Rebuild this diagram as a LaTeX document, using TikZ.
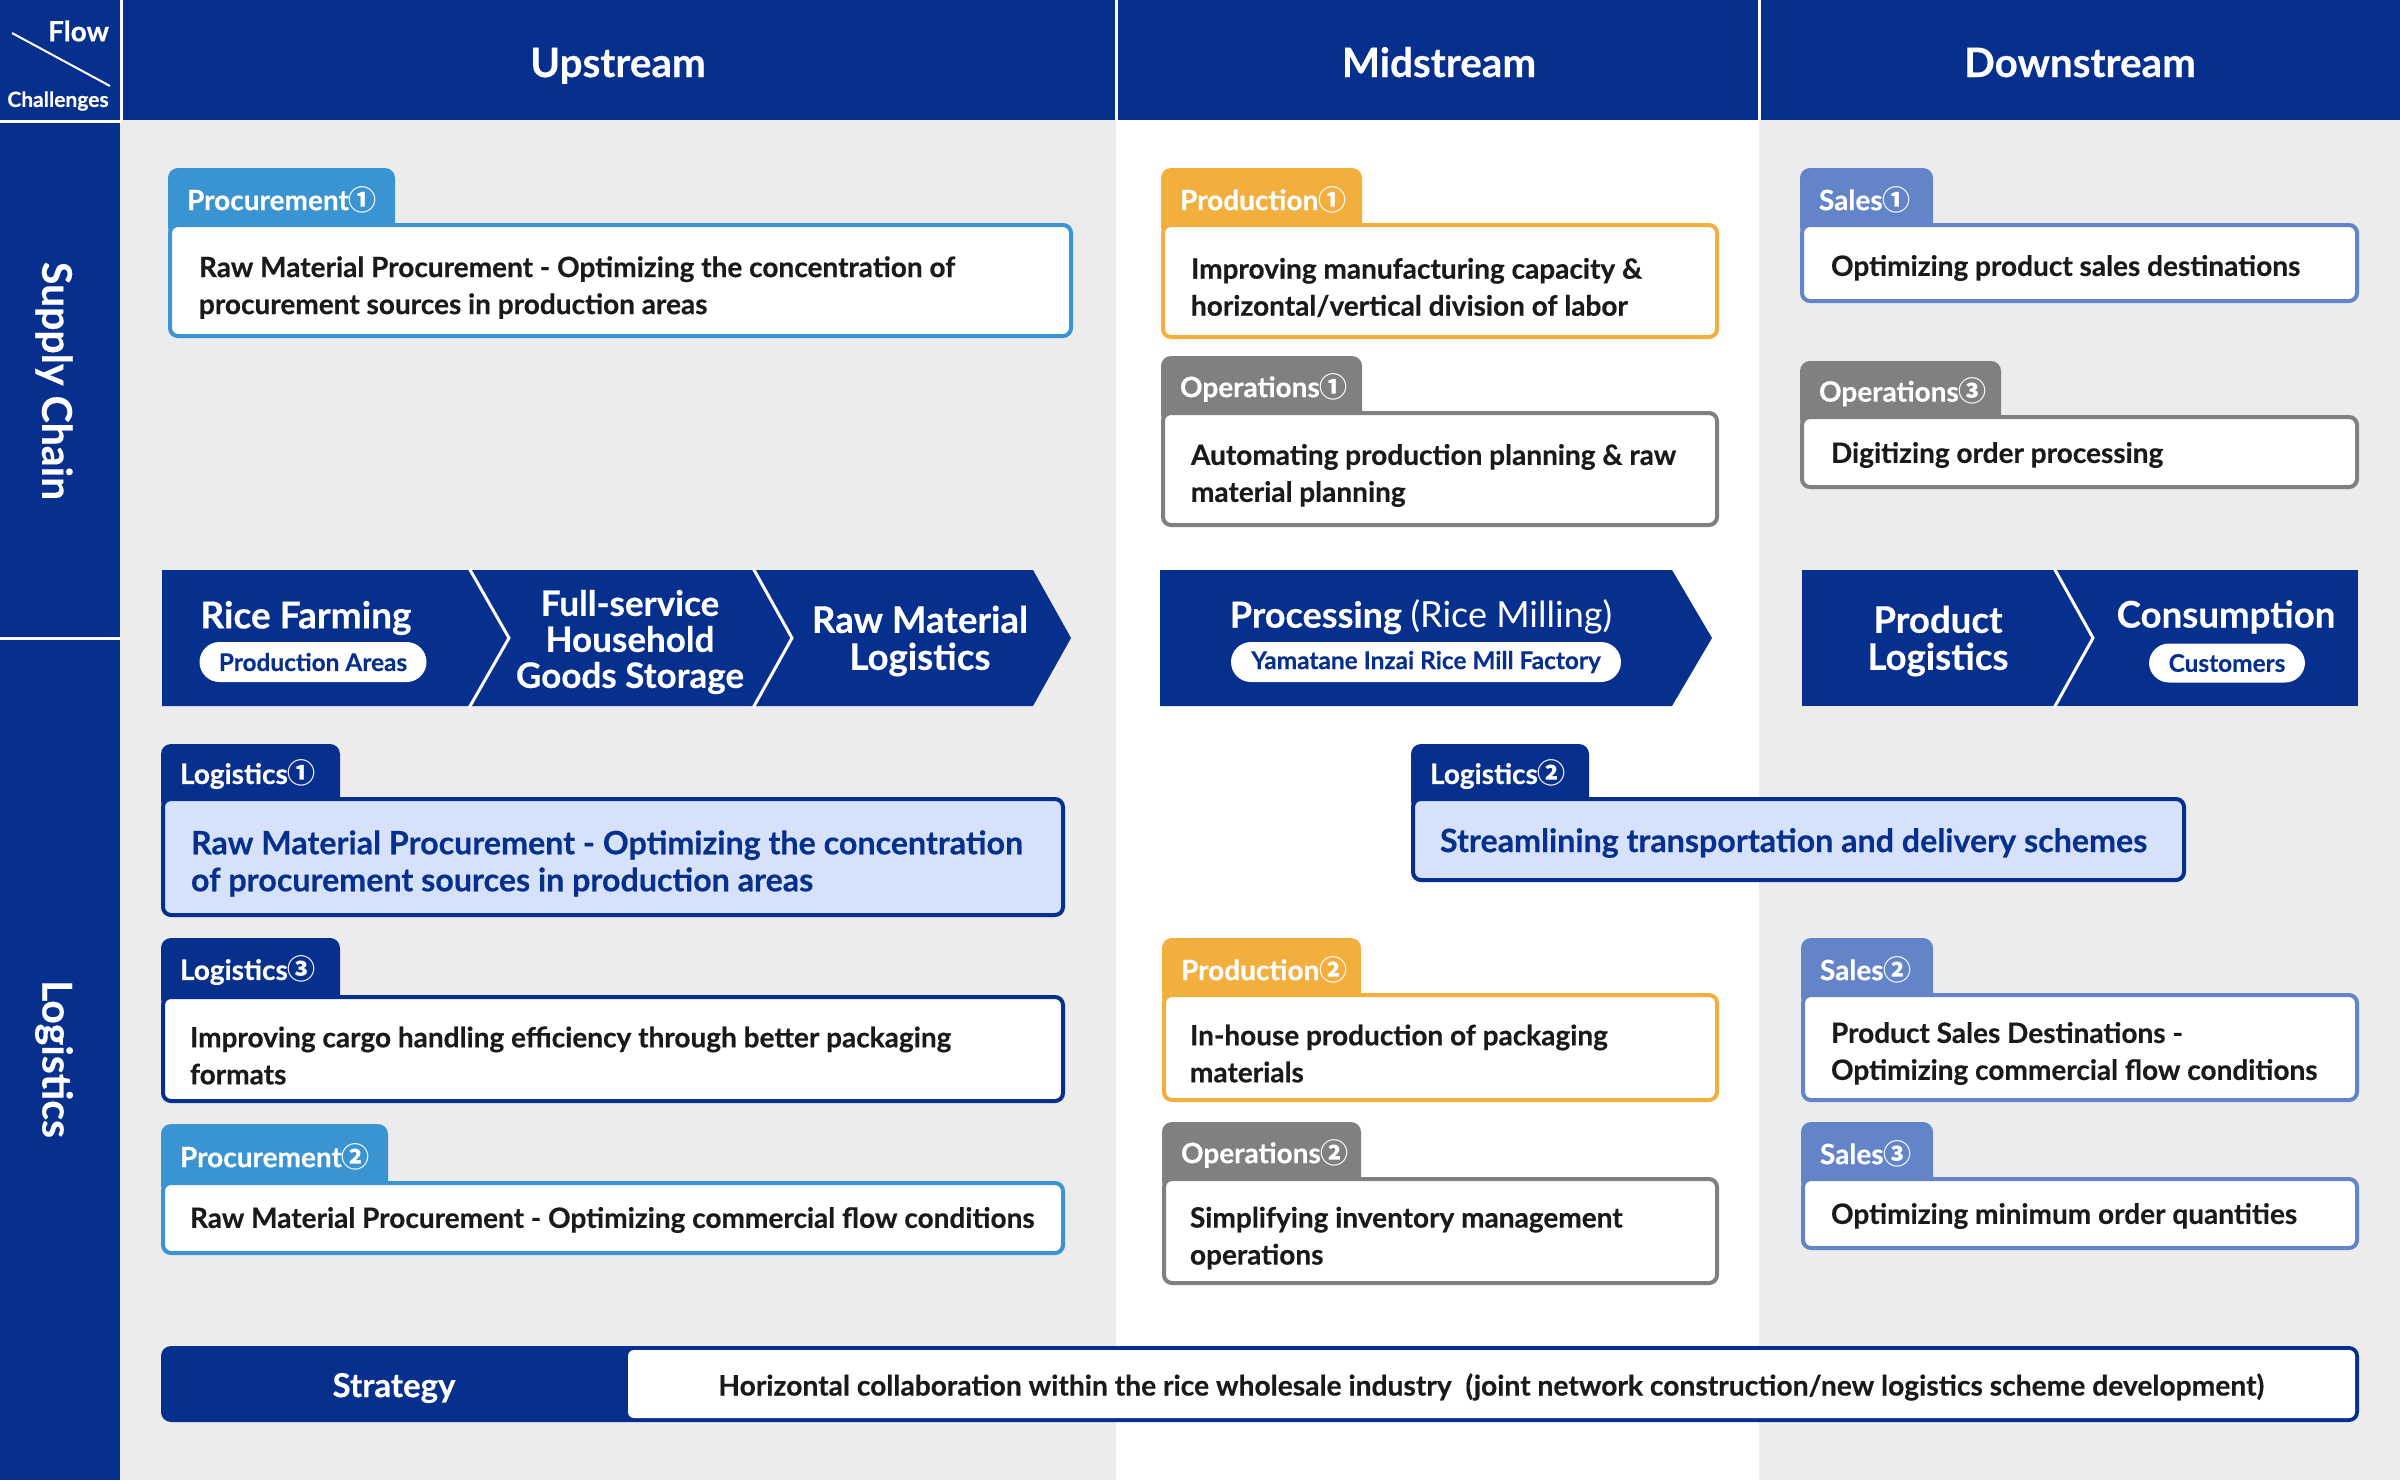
\documentclass[tikz,border=0pt]{standalone}
\usepackage{fontspec}
\setmainfont{Lato}[BoldFeatures={FakeBold=0.4}]
\newfontfamily\cjk{Noto Sans CJK JP}
\definecolor{navy}{RGB}{7,48,142}
\definecolor{procb}{RGB}{58,148,210}
\definecolor{prodo}{RGB}{243,175,61}
\definecolor{opsg}{RGB}{128,128,128}
\definecolor{salesb}{RGB}{99,132,200}
\definecolor{lightb}{RGB}{214,225,250}
\definecolor{bggray}{RGB}{236,236,236}
\definecolor{txt}{RGB}{26,26,26}
\newcommand\cn[1]{{\cjk\bfseries #1}}
\newcommand\cardfill{white}
\newcommand\card[9]{%
  \fill[#2, rounded corners=5pt] (#3,#4) rectangle (#5,#6+14);
  \filldraw[fill=\cardfill, draw=#2, line width=2pt, rounded corners=4pt] (#3+2,#6+2) rectangle (#7-2,#8-2);
  \node[tablbl] (#1) at (#3+19,{(#4+#6)/2+4}) {#9};}
\begin{document}
\begin{tikzpicture}[x=0.5pt,y=-0.5pt,
  every node/.style={inner sep=0pt, outer sep=0pt},
  hdr/.style={text=white, anchor=base, font=\bfseries\fontsize{20.2pt}{22pt}\selectfont},
  side/.style={text=white, rotate=-90, font=\bfseries\fontsize{20.5pt}{22pt}\selectfont},
  tablbl/.style={text=white, anchor=west, font=\bfseries\fontsize{14pt}{16pt}\selectfont},
  body/.style={text=txt, anchor=west, align=left, font=\bfseries\fontsize{14pt}{18.5pt}\selectfont},
  bigbody/.style={text=navy, anchor=west, align=left, font=\bfseries\fontsize{16.1pt}{18.5pt}\selectfont},
  chev/.style={text=white, align=center, font=\bfseries\fontsize{18.3pt}{18.5pt}\selectfont},
  pill/.style={fill=white, text=navy, rounded corners=10pt, font=\bfseries\fontsize{12.2pt}{13pt}\selectfont},
  sep/.style={white, line width=1.5pt}
]
\useasboundingbox (0,0) rectangle (2400,1480);
% backgrounds
\fill[bggray] (0,0) rectangle (2400,1480);
\fill[white] (1116,120) rectangle (1759,1480);
\fill[navy] (0,0) rectangle (2400,120);
\fill[navy] (0,120) rectangle (120,1480);
\draw[sep] (121,0) -- (121,120);
\draw[sep] (1116,0) -- (1116,120);
\draw[sep] (1759,0) -- (1759,120);
\draw[sep] (0,121) -- (121,121);
\draw[sep] (0,638) -- (120,638);
% corner cell
\draw[white, line width=1pt] (12,33) -- (110,86);
\node[text=white, anchor=east, font=\bfseries\fontsize{14pt}{16pt}\selectfont] (flow) at (109,31) {Flow};
\node[text=white, font=\bfseries\fontsize{10.5pt}{12pt}\selectfont] (chal) at (58,101) {Challenges};
% headers
\node[hdr] (up) at (618,77) {Upstream};
\node[hdr] (mid) at (1439,77) {Midstream};
\node[hdr] (down) at (2080,77) {Downstream};
\node[side] (sc) at (54,381) {Supply Chain};
\node[side] (lg) at (54,1059) {Logistics};
% chevron bands
\fill[navy] (162,570) -- (1033,570) -- (1071,638) -- (1033,706) -- (162,706) -- cycle;
\draw[sep] (469,568) -- (509,638) -- (469,708);
\draw[sep] (753,568) -- (792,638) -- (753,708);
\fill[navy] (1160,570) -- (1672,570) -- (1712,638) -- (1672,706) -- (1160,706) -- cycle;
\fill[navy] (1802,570) rectangle (2358,706);
\draw[sep] (2054,568) -- (2093,638) -- (2054,708);
\node[chev, font=\bfseries\fontsize{18.5pt}{18.5pt}\selectfont] (rice) at (306,618) {Rice Farming};
\node[pill, minimum width=113.5pt, minimum height=20pt] (parea) at (313,662) {Production Areas};
\node[chev, font=\bfseries\fontsize{17.5pt}{18pt}\selectfont] (storage) at (630,642) {Full-service\\Household\\Goods Storage};
\node[chev] (rawlog) at (920,641) {Raw Material\\Logistics};
\node[chev, font=\bfseries\fontsize{18pt}{18.5pt}\selectfont] (proc) at (1421,617) {Processing {\mdseries(Rice Milling)}};
\node[pill, minimum width=195pt, minimum height=20pt] (factory) at (1426,662) {Yamatane Inzai Rice Mill Factory};
\node[chev] (prodlog) at (1938,641) {Product\\Logistics};
\node[chev] (cons) at (2226,617) {Consumption};
\node[pill, minimum width=78pt, minimum height=19.5pt] (cust) at (2227,663) {Customers};
% supply chain cards
\card{t-proc1}{procb}{168}{168}{395}{223}{1073}{338}{Procurement\cn{①}}
\node[body] (b-proc1) at (199,287.5) {Raw Material Procurement - Optimizing the concentration of\\procurement sources in production areas};
\card{t-prod1}{prodo}{1161}{168}{1362}{223}{1719}{339}{Production\cn{①}}
\node[body] (b-prod1) at (1191,287.5) {Improving manufacturing capacity \&\\horizontal/vertical division of labor};
\card{t-ops1}{opsg}{1161}{356}{1362}{411}{1719}{527}{Operations\cn{①}}
\node[body] (b-ops1) at (1191,475.5) {Automating production planning \& raw\\material planning};
\card{t-sales1}{salesb}{1800}{168}{1933}{223}{2359}{303}{Sales\cn{①}}
\node[body] (b-sales1) at (1831,268) {Optimizing product sales destinations};
\card{t-ops3}{opsg}{1800}{361}{2001}{415}{2359}{489}{Operations\cn{③}}
\node[body] (b-ops3) at (1831,455) {Digitizing order processing};
% logistics cards
\renewcommand\cardfill{lightb}
\card{t-log1}{navy}{161}{744}{340}{797}{1065}{917}{Logistics\cn{①}}
\node[bigbody] (b-log1) at (191,863.5) {Raw Material Procurement - Optimizing the concentration\\of procurement sources in production areas};
\card{t-log2}{navy}{1411}{744}{1589}{797}{2186}{882}{Logistics\cn{②}}
\node[bigbody] (b-log2) at (1440,843) {Streamlining transportation and delivery schemes};
\renewcommand\cardfill{white}
\card{t-log3}{navy}{161}{938}{340}{995}{1065}{1103}{Logistics\cn{③}}
\node[body] (b-log3) at (190,1055.5) {Improving cargo handling efficiency through better packaging\\formats};
\card{t-proc2}{procb}{161}{1124}{388}{1181}{1065}{1255}{Procurement\cn{②}}
\node[body] (b-proc2) at (190,1220) {Raw Material Procurement - Optimizing commercial flow conditions};
\card{t-prod2}{prodo}{1162}{938}{1361}{993}{1719}{1102}{Production\cn{②}}
\node[body] (b-prod2) at (1190,1053.5) {In-house production of packaging\\materials};
\card{t-ops2}{opsg}{1162}{1122}{1361}{1177}{1719}{1285}{Operations\cn{②}}
\node[body] (b-ops2) at (1190,1238) {Simplifying inventory management\\operations};
\card{t-sales2}{salesb}{1801}{938}{1933}{993}{2359}{1102}{Sales\cn{②}}
\node[body] (b-sales2) at (1831,1053.5) {Product Sales Destinations -\\Optimizing commercial flow conditions};
\card{t-sales3}{salesb}{1801}{1122}{1933}{1177}{2359}{1250}{Sales\cn{③}}
\node[body] (b-sales3) at (1831,1216) {Optimizing minimum order quantities};
% strategy bar
\fill[navy, rounded corners=5pt] (161,1346) rectangle (2359,1422);
\fill[white, rounded corners=3pt] (628,1350) rectangle (2355,1418);
\node[text=white, font=\bfseries\fontsize{16.5pt}{17pt}\selectfont] (strat) at (394,1388) {Strategy};
\node[text=txt, font=\bfseries\fontsize{14.1pt}{16pt}\selectfont] (strattxt) at (1491,1387) {Horizontal collaboration within the rice wholesale industry\ \ (joint network construction/new logistics scheme development)};
\end{tikzpicture}
\end{document}
